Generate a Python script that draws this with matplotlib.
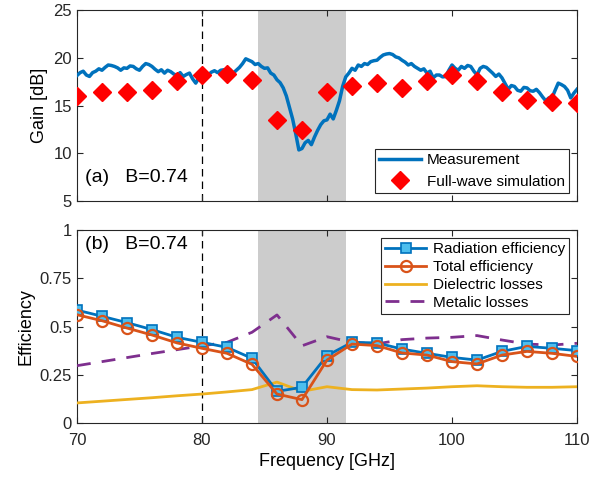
import numpy as np
import matplotlib.pyplot as plt

plt.rcParams['font.family'] = ['Liberation Sans', 'DejaVu Sans']

# measured gain, 70-110 GHz, 0.25 GHz step
f_meas = np.linspace(70, 110, 161)
gain_meas = [
    18.15, 18.45, 18.60, 18.20, 18.05, 18.45, 18.60, 18.85, 18.70, 19.00,
    19.25, 19.20, 19.10, 18.95, 18.70, 18.95, 18.90, 19.15, 19.10, 18.85,
    18.70, 19.10, 19.40, 19.30, 19.10, 18.80, 18.55, 18.75, 18.40, 18.70,
    18.55, 18.30, 18.15, 18.45, 18.05, 18.25, 18.40, 17.80, 17.35, 17.90,
    18.15, 18.00, 18.20, 18.50, 18.65, 18.45, 18.70, 18.75, 18.55, 18.75,
    18.40, 18.70, 19.00, 19.40, 19.90, 19.75, 19.60, 19.30, 19.40, 19.10,
    18.90, 18.95, 18.40, 18.20, 17.70, 17.40, 16.85, 16.00, 14.80, 13.60,
    12.05, 10.35, 10.50, 11.10, 11.35, 10.90, 11.70, 12.40, 13.00, 13.40,
    13.50, 14.10, 13.60, 14.50, 15.50, 17.00, 18.00, 18.40, 18.90, 18.70,
    19.25, 19.10, 19.40, 19.30, 19.60, 19.70, 19.75, 20.05, 20.30, 20.40,
    20.45, 20.35, 20.10, 20.00, 19.75, 19.55, 19.25, 19.40, 19.10, 18.90,
    18.70, 18.85, 18.40, 18.60, 17.90, 18.20, 18.20, 18.00, 18.05, 18.70,
    19.25, 18.90, 18.70, 19.10, 18.90, 19.20, 19.10, 18.60, 18.20, 18.90,
    19.10, 19.00, 18.70, 18.40, 18.05, 18.30, 17.90, 17.30, 16.70, 17.10,
    17.00, 16.60, 16.50, 16.90, 16.85, 16.55, 16.50, 16.70, 16.35, 15.90,
    15.50, 15.80, 15.80, 16.60, 17.35, 17.20, 17.00, 16.60, 15.80, 16.30,
    16.70,
]

# simulation points every 2 GHz
f_sim = np.arange(70, 111, 2)
gain_sim = [16.0, 16.4, 16.4, 16.6, 17.6, 18.15, 18.3, 17.7, 13.5, 12.4, 16.4,
            17.0, 17.4, 16.85, 17.6, 18.15, 17.6, 16.45, 15.6, 15.4, 15.3]
rad_eff = [0.585, 0.553, 0.520, 0.484, 0.444, 0.418, 0.392, 0.335, 0.164, 0.185, 0.349,
           0.418, 0.415, 0.383, 0.361, 0.340, 0.326, 0.371, 0.397, 0.387, 0.375]
tot_eff = [0.561, 0.530, 0.492, 0.456, 0.415, 0.387, 0.361, 0.304, 0.150, 0.121, 0.326,
           0.409, 0.401, 0.363, 0.352, 0.318, 0.306, 0.352, 0.371, 0.361, 0.345]
diel_loss = [0.104, 0.113, 0.122, 0.131, 0.141, 0.150, 0.161, 0.173, 0.212, 0.164, 0.188,
             0.173, 0.171, 0.176, 0.181, 0.188, 0.193, 0.188, 0.185, 0.185, 0.188]
metal_loss = [0.297, 0.318, 0.339, 0.360, 0.380, 0.400, 0.418, 0.470, 0.560, 0.400, 0.447,
              0.418, 0.410, 0.432, 0.440, 0.444, 0.453, 0.430, 0.409, 0.404, 0.413]

blue = '#0072BD'
orange = '#D95319'
yellow = '#EDB120'
purple = '#7E2F8E'
band = (84.5, 91.5)
fs = 12

fig = plt.figure(figsize=(6.08, 4.82), dpi=100)
ax1 = fig.add_axes([0.1266, 0.583, 0.8224, 0.396])
ax2 = fig.add_axes([0.1266, 0.1224, 0.8224, 0.4004])

for ax in (ax1, ax2):
    ax.axvspan(*band, color='#cccccc', lw=0, zorder=0)
    ax.axvline(80, color='k', ls=(0, (6, 4)), lw=0.9, zorder=1)
    ax.set_xlim(70, 110)
    ax.set_xticks([70, 80, 90, 100, 110])
    ax.tick_params(direction='in', top=True, right=True, labelsize=fs,
                   colors='#262626', length=4)
    ax.tick_params(axis='x', pad=7)
    for s in ax.spines.values():
        s.set_color('#262626')
        s.set_linewidth(0.8)

# (a) gain
ax1.plot(f_meas, gain_meas, color=blue, lw=2.5, label='Measurement', zorder=3)
ax1.plot(f_sim, gain_sim, 'D', color='red', ms=9, mec='red', ls='none',
         label='Full-wave simulation', zorder=4)
ax1.set_ylim(5, 25)
ax1.set_yticks([5, 10, 15, 20, 25])
ax1.set_xticklabels([])
ax1.set_ylabel('Gain [dB]', fontsize=fs + 1)
ax1.text(0.017, 0.1, '(a)   B=0.74', transform=ax1.transAxes, fontsize=14)
leg1 = ax1.legend(loc='lower right', fontsize=11, fancybox=False,
                  framealpha=1, edgecolor='#262626', handlelength=2.7,
                  handletextpad=0.4, borderaxespad=0.5, borderpad=0.3)
leg1.get_frame().set_linewidth(0.8)

# (b) efficiency
ax2.plot(f_sim, rad_eff, '-s', color=blue, lw=2, ms=6.5, mfc='#4DBEEE', mec=blue,
         mew=1.2, label='Radiation efficiency', zorder=4)
ax2.plot(f_sim, tot_eff, '-o', color=orange, lw=2, ms=8, mfc='none', mec=orange,
         mew=1.6, label='Total efficiency', zorder=5)
ax2.plot(f_sim, diel_loss, '-', color=yellow, lw=2, label='Dielectric losses', zorder=3)
ax2.plot(f_sim, metal_loss, '--', color=purple, lw=2, dashes=(5, 4),
         label='Metalic losses', zorder=3)
ax2.set_ylim(0, 1)
ax2.set_yticks([0, 0.25, 0.5, 0.75, 1])
ax2.set_yticklabels(['0', '0.25', '0.5', '0.75', '1'])
ax2.set_xlabel('Frequency [GHz]', fontsize=fs + 1)
ax2.set_ylabel('Efficiency', fontsize=fs + 1)
ax2.text(0.017, 0.9, '(b)   B=0.74', transform=ax2.transAxes, fontsize=14)
leg2 = ax2.legend(loc='upper right', fontsize=11, fancybox=False,
                  framealpha=1, edgecolor='#262626', handlelength=2.7,
                  handletextpad=0.4, borderaxespad=0.5, labelspacing=0.25,
                  borderpad=0.3)
leg2.get_frame().set_linewidth(0.8)

fig.savefig('out.png', dpi=100)
